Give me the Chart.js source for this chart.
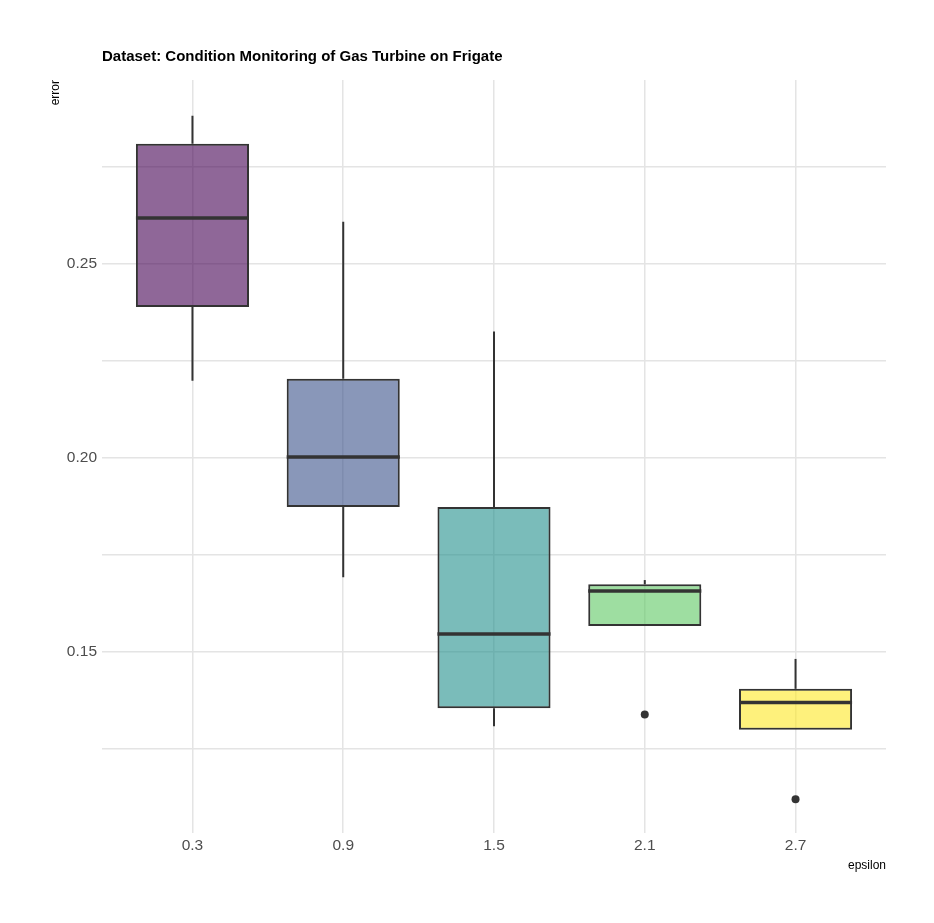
<!DOCTYPE html>
<html>
<head>
<meta charset="utf-8">
<title>Condition Monitoring of Gas Turbine on Frigate</title>
<script src="https://cdn.jsdelivr.net/npm/chart.js@4.4.1/dist/chart.umd.min.js"></script>
<style>
  html, body { margin: 0; padding: 0; background: #ffffff; }
  #boxChart { display: block; }
</style>
</head>
<body>
<canvas id="boxChart" width="934" height="923"></canvas>
<script>
// values
const categories = ["0.3", "0.9", "1.5", "2.1", "2.7"];
const whiskerLow = [0.2198, 0.1692, 0.1309, 0.1567, 0.1300];
const q1 = [0.2388, 0.1873, 0.1355, 0.1567, 0.1300];
const medians = [0.2617, 0.2002, 0.1546, 0.1657, 0.1370];
const q3 = [0.2808, 0.2203, 0.1873, 0.1674, 0.1405];
const whiskerHigh = [0.2880, 0.2607, 0.2325, 0.1685, 0.1482];
const outlierCategory = ["2.1", "2.7"];
const outlierValue = [0.1339, 0.1121];

const yGridValues = [0.125, 0.15, 0.175, 0.2, 0.225, 0.25, 0.275];
const yTickLabels = ["", "0.15", "", "0.20", "", "0.25", ""];

const yMin = 0.1034;
const yMax = 0.2972;

const fills = [
  "rgba(68, 1, 84, 0.6)",
  "rgba(59, 82, 139, 0.6)",
  "rgba(33, 144, 140, 0.6)",
  "rgba(93, 200, 99, 0.6)",
  "rgba(253, 231, 37, 0.6)",
];

const outline = "#333333";
const gridColor = "#e4e4e4";

Chart.defaults.font.family = "'Liberation Sans', Arial, Helvetica, sans-serif";

// whiskers and median lines on top of the floating bars
const boxplotLines = {
  id: "boxplotLines",
  afterDatasetsDraw(chart) {
    const { ctx } = chart;
    const x = chart.scales.x;
    const y = chart.scales.y;
    const bars = chart.getDatasetMeta(0).data;
    ctx.save();
    ctx.strokeStyle = outline;
    categories.forEach((c, i) => {
      const px = x.getPixelForValue(i);
      ctx.lineWidth = 2;
      ctx.beginPath();
      ctx.moveTo(px, y.getPixelForValue(whiskerHigh[i]));
      ctx.lineTo(px, y.getPixelForValue(q3[i]));
      ctx.moveTo(px, y.getPixelForValue(q1[i]));
      ctx.lineTo(px, y.getPixelForValue(whiskerLow[i]));
      ctx.stroke();

      const half = bars[i].width / 2;
      const py = y.getPixelForValue(medians[i]);
      ctx.lineWidth = 3.5;
      ctx.beginPath();
      ctx.moveTo(px - half, py);
      ctx.lineTo(px + half, py);
      ctx.stroke();
    });
    ctx.restore();
  },
};

const ctx = document.getElementById("boxChart").getContext("2d");
const boxChart = new Chart(ctx, {
  type: "bar",
  data: {
    datasets: [
      {
        label: "box",
        data: categories.map((c, i) => ({ x: i, y: [q1[i], q3[i]] })),
        backgroundColor: fills,
        borderColor: outline,
        borderWidth: 2,
        borderSkipped: false,
        barPercentage: 0.75,
        categoryPercentage: 1,
      },
      {
        type: "scatter",
        label: "outliers",
        data: outlierCategory.map((c, i) => ({ x: categories.indexOf(c), y: outlierValue[i] })),
        pointRadius: 4,
        pointBackgroundColor: outline,
        pointBorderColor: outline,
        pointBorderWidth: 0,
      },
    ],
  },
  options: {
    responsive: false,
    animation: false,
    layout: {
      padding: { left: 0, right: 48, top: 0, bottom: 0 },
    },
    plugins: {
      legend: { display: false },
      tooltip: { enabled: false },
      title: {
        display: true,
        text: "Dataset: Condition Monitoring of Gas Turbine on Frigate",
        align: "start",
        fullSize: false,
        color: "#000000",
        font: { size: 15, weight: "bold" },
        padding: { top: 47.7, bottom: 14.3 },
      },
    },
    scales: {
      x: {
        type: "linear",
        min: -0.6,
        max: categories.length - 0.4,
        offset: false,
        afterBuildTicks: (scale) => {
          scale.ticks = categories.map((c, i) => ({ value: i }));
        },
        afterFit: (scale) => {
          scale.height = 90;
        },
        ticks: {
          callback: (value) => categories[value],
          color: "#4d4d4d",
          font: { size: 15.5 },
          padding: 3,
          maxRotation: 0,
          autoSkip: false,
        },
        grid: {
          color: gridColor,
          lineWidth: 1.5,
          drawTicks: false,
          offset: false,
        },
        border: { display: false },
        title: {
          display: true,
          text: "epsilon",
          align: "end",
          color: "#000000",
          font: { size: 12 },
          padding: { top: 0, bottom: 49.8 },
        },
      },
      y: {
        min: yMin,
        max: yMax,
        beginAtZero: false,
        afterBuildTicks: (scale) => {
          scale.ticks = yGridValues.map((v) => ({ value: v }));
        },
        afterFit: (scale) => {
          scale.width = 102;
        },
        ticks: {
          callback: (value, index) => yTickLabels[index],
          color: "#4d4d4d",
          font: { size: 15.5 },
          padding: 5,
          autoSkip: false,
        },
        grid: {
          color: gridColor,
          lineWidth: 1.5,
          drawTicks: false,
        },
        border: { display: false },
        title: {
          display: true,
          text: "error",
          align: "end",
          color: "#000000",
          font: { size: 12 },
          padding: { top: 48.8, bottom: 0 },
        },
      },
    },
  },
  plugins: [boxplotLines],
});
</script>
</body>
</html>
